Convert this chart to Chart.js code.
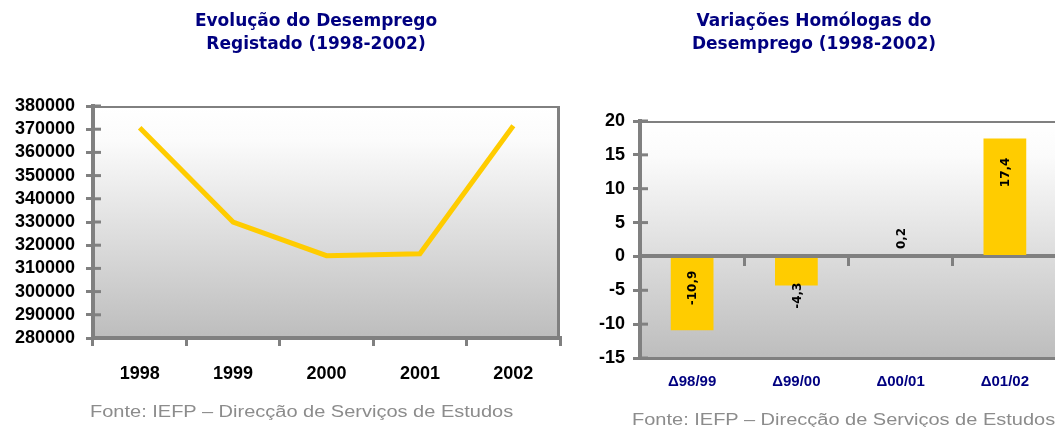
<!DOCTYPE html>
<html>
<head>
<meta charset="utf-8">
<script src="https://cdn.jsdelivr.net/npm/chart.js@4.4.0/dist/chart.umd.min.js"></script>
<style>
  html, body { margin: 0; padding: 0; overflow: hidden; background: #fff; width: 1055px; height: 427px; }
  .box { position: absolute; top: 0; height: 427px; }
  #leftBox { left: 0; width: 632px; }
  #rightBox { left: 571px; width: 486px; }
  .fonte { position: absolute; font-family: "Liberation Sans", Arial, sans-serif; font-size: 16px; line-height: 19px;
           color: #8c8c8c; white-space: nowrap; transform: scaleX(1.25); transform-origin: 0 0; }
</style>
</head>
<body>
<div class="box" id="leftBox"><canvas id="evolucao"></canvas></div>
<div class="box" id="rightBox"><canvas id="variacoes"></canvas></div>
<div class="fonte" style="left:90px; top:402px;">Fonte: IEFP – Direcção de Serviços de Estudos</div>
<div class="fonte" style="left:632px; top:410px;">Fonte: IEFP – Direcção de Serviços de Estudos</div>

<script>
// dados
var anos = ['1998', '1999', '2000', '2001', '2002'];
var desempregados = [370600, 330000, 315500, 316300, 371500];

var periodos = ['\u039498/99', '\u039499/00', '\u039400/01', '\u039401/02'];
var variacoes = [-10.9, -4.3, 0.2, 17.4];

var grey = '#808080';
var tickFont = { family: '"Liberation Sans", Arial, sans-serif', size: 18, weight: 'bold' };
var titleFont = { family: '"DejaVu Sans", sans-serif', size: 17, weight: 'bold', lineHeight: '23px' };

Chart.defaults.animation = false;
Chart.defaults.plugins.legend.display = false;
Chart.defaults.plugins.tooltip.enabled = false;

// fundo em degradê e moldura da área do gráfico
var plotFrame = {
  id: 'plotFrame',
  beforeDraw: function(chart, args, opts) {
    var a = chart.chartArea, ctx = chart.ctx;
    var g = ctx.createLinearGradient(0, a.top, 0, a.bottom);
    g.addColorStop(0, '#ffffff');
    g.addColorStop(0.15, '#fbfbfb');
    g.addColorStop(1, '#bdbdbd');
    ctx.save();
    ctx.fillStyle = g;
    ctx.fillRect(a.left, a.top, a.right - a.left, a.bottom - a.top);
    ctx.restore();
  },
  beforeDatasetsDraw: function(chart, args, opts) {
    var a = chart.chartArea, ctx = chart.ctx;
    ctx.save();
    ctx.strokeStyle = grey;
    ctx.lineWidth = 2;
    ctx.beginPath();
    ctx.moveTo(a.left, a.top + 1);
    ctx.lineTo(a.right, a.top + 1);
    ctx.stroke();
    if (opts.right) {
      ctx.lineWidth = 3;
      ctx.beginPath();
      ctx.moveTo(a.right - 1.5, a.top);
      ctx.lineTo(a.right - 1.5, a.bottom);
      ctx.stroke();
    }
    // the y ticks cross the axis: draw the inner half
    var y = chart.scales.y;
    ctx.lineWidth = 3;
    y.ticks.forEach(function(t, i) {
      var py = y.getPixelForTick(i);
      ctx.beginPath();
      ctx.moveTo(a.left, py);
      ctx.lineTo(a.left + 8, py);
      ctx.stroke();
    });
    ctx.restore();
  }
};

var barLabels = {
  id: 'barLabels',
  afterDatasetsDraw: function(chart) {
    var ctx = chart.ctx;
    var meta = chart.getDatasetMeta(0);
    var zero = chart.scales.y.getPixelForValue(0);
    ctx.save();
    ctx.font = 'bold 12px "DejaVu Sans", sans-serif';
    ctx.fillStyle = '#000';
    ctx.textAlign = 'center';
    ctx.textBaseline = 'middle';
    meta.data.forEach(function(bar, i) {
      var v = variacoes[i];
      var txt = String(v).replace('.', ',');
      var tw = ctx.measureText(txt).width;
      var len = Math.abs(bar.y - zero);
      var cy;
      if (len > tw + 20) {
        cy = v > 0 ? bar.y + 19 + tw / 2 : bar.y - 25 - tw / 2;
      } else {
        cy = v > 0 ? bar.y - 6 - tw / 2 : bar.y - 3 + tw / 2;
      }
      ctx.save();
      ctx.translate(bar.x + 1, cy);
      ctx.rotate(-Math.PI / 2);
      ctx.fillText(txt, 0, 0);
      ctx.restore();
    });
    ctx.restore();
  }
};

new Chart(document.getElementById('evolucao'), {
  type: 'line',
  data: {
    labels: anos,
    datasets: [{
      data: desempregados,
      borderColor: '#FFCC00',
      borderWidth: 5,
      pointRadius: 0,
      tension: 0,
      fill: false
    }]
  },
  options: {
    responsive: true,
    maintainAspectRatio: false,
    layout: { padding: 0 },
    plugins: {
      plotFrame: { right: true },
      title: {
        display: true,
        text: ['Evolução do Desemprego', 'Registado (1998-2002)'],
        color: '#000080',
        font: titleFont,
        padding: { top: 10.5, bottom: 49.5 }
      }
    },
    scales: {
      x: {
        offset: true,
        grid: { offset: true, drawOnChartArea: false, tickLength: 8, color: grey, lineWidth: 3 },
        border: { color: grey, width: 4 },
        ticks: { color: '#000', font: tickFont, padding: 17, maxRotation: 0 },
        afterFit: function(s) { s.height = 89; }
      },
      y: {
        min: 280000,
        max: 380000,
        grid: { drawOnChartArea: false, tickLength: 7, color: grey, lineWidth: 3 },
        border: { color: grey, width: 4 },
        ticks: { stepSize: 10000, autoSkip: false, color: '#000', font: tickFont, padding: 11,
                 callback: function(v) { return String(v); } },
        afterFit: function(s) { s.width = 93; }
      },
      pad: {
        type: 'linear',
        position: 'right',
        grid: { display: false },
        border: { display: false },
        ticks: { display: false },
        afterFit: function(s) { s.width = 72; }
      }
    }
  },
  plugins: [plotFrame]
});

new Chart(document.getElementById('variacoes'), {
  type: 'bar',
  data: {
    labels: periodos,
    datasets: [{
      data: variacoes,
      backgroundColor: '#FFCC00',
      barPercentage: 0.41,
      categoryPercentage: 1
    }]
  },
  options: {
    responsive: true,
    maintainAspectRatio: false,
    layout: { padding: 0 },
    plugins: {
      plotFrame: { right: false },
      title: {
        display: true,
        text: ['Variações Homólogas do', 'Desemprego (1998-2002)'],
        color: '#000080',
        font: titleFont,
        padding: { top: 10.5, bottom: 64.5 }
      }
    },
    scales: {
      x: {
        offset: true,
        grid: { display: false },
        border: { color: grey, width: 3 },
        ticks: { color: '#000080', padding: 7, maxRotation: 0,
                 font: { family: '"Liberation Sans", Arial, sans-serif', size: 15, weight: 'bold' } },
        afterFit: function(s) { s.height = 69; }
      },
      xz: {
        type: 'category',
        position: { y: 0 },
        offset: true,
        grid: { offset: true, drawOnChartArea: false, tickLength: 8, color: grey, lineWidth: 3 },
        border: { color: grey, width: 4 },
        ticks: { display: false }
      },
      y: {
        min: -15,
        max: 20,
        grid: { drawOnChartArea: false, tickLength: 7, color: grey, lineWidth: 3 },
        border: { color: grey, width: 4 },
        ticks: { stepSize: 5, autoSkip: false, color: '#000', font: tickFont, padding: 8 },
        afterFit: function(s) { s.width = 69; }
      }
    }
  },
  plugins: [plotFrame, barLabels]
});
</script>
</body>
</html>
